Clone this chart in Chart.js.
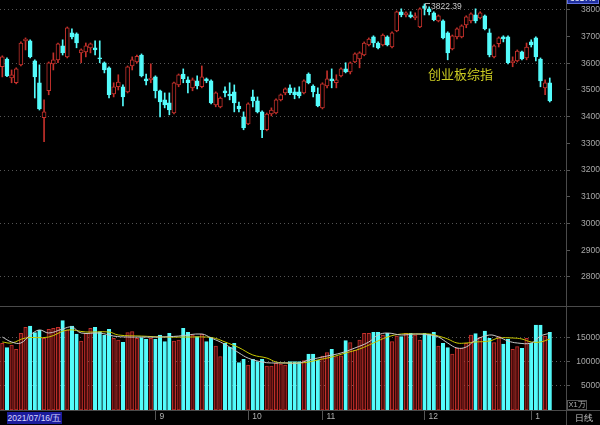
<!DOCTYPE html>
<html>
<head>
<meta charset="utf-8">
<script src="https://cdn.jsdelivr.net/npm/chart.js@4.4.1/dist/chart.umd.min.js"></script>
<style>
  html, body { margin: 0; padding: 0; background: #000; }
  #wrap { position: relative; width: 600px; height: 425px; overflow: hidden; background: #000;
          font-family: "Liberation Sans", Arial, sans-serif; }
  #priceChart { position: absolute; left: 0; top: 0; }
  #volChart { position: absolute; left: 0; top: 306px; }
  .hl { position: absolute; left: 0; width: 600px; height: 1px; background: #4a4a4a; }
  .vl { position: absolute; top: 0; width: 1px; height: 425px; background: #4a4a4a; }
  #title { position: absolute; left: 428px; top: 64px; font: 13px "Noto Sans CJK SC", sans-serif; color: #cccc22; }
  #hiMark { position: absolute; left: 425px; top: 3px; width: 4px; height: 6px;
            border-left: 1px solid #aaa; border-top: 1px solid #aaa; }
  #hiText { position: absolute; left: 431px; top: 1px; font-size: 8.5px; color: #c8c8c8; }
  #curBox { position: absolute; left: 567px; top: -7px; width: 32px; height: 11px; background: #1f2f9f;
            border: 1px solid #6070e0; box-sizing: border-box; color: #fff; font-size: 8.5px; text-align: center; line-height: 9px; }
  #dateBox { position: absolute; left: 7px; top: 412px; width: 55px; height: 12px; background: #1c1c9c;
             color: #d8d8ff; font-size: 8.5px; line-height: 12px; text-align: center; }
  #unitBox { position: absolute; left: 567px; top: 400px; width: 20px; height: 10px; border: 1px solid #555;
             box-sizing: border-box; color: #b0b0b0; font-size: 7.5px; line-height: 8px; text-align: center; }
  #dayText { position: absolute; left: 575px; top: 412px; color: #c0c0c0; font-size: 9px; }
</style>
</head>
<body>
<div id="wrap">
  <canvas id="priceChart" width="600" height="306"></canvas>
  <canvas id="volChart" width="600" height="119"></canvas>
  <div class="hl" style="top:306px"></div>
  <div class="hl" style="top:410px"></div>
  <div class="vl" style="left:566px"></div>
  <div id="title">创业板综指</div>
  <div id="hiMark"></div>
  <div id="hiText">3822.39</div>
  <div id="curBox">3817.0</div>
  <div id="dateBox">2021/07/16/五</div>
  <div id="unitBox">X1万</div>
  <div id="dayText">日线</div>
</div>
<script>
// daily candles, 2021/07/16 .. 2022/01
const opens = [3587,3616,3545,3527,3594,3684,3684,3609,3527,3396,
  3497,3598,3613,3665,3624,3714,3710,3639,3643,3658,
  3658,3620,3602,3583,3485,3512,3512,3493,3590,3605,
  3631,3542,3538,3549,3497,3463,3452,3414,3519,3560,
  3538,3508,3534,3512,3542,3534,3444,3437,3497,3485,
  3493,3440,3399,3373,3474,3459,3418,3351,3410,3414,
  3463,3489,3508,3493,3493,3489,3560,3515,3485,3433,
  3515,3542,3527,3553,3579,3568,3605,3616,3631,3669,
  3699,3676,3669,3699,3661,3721,3793,3781,3781,3770,
  3736,3815,3804,3789,3759,3759,3714,3654,3699,3699,
  3744,3759,3781,3770,3778,3714,3624,3673,3699,3699,
  3602,3609,3643,3620,3680,3695,3616,3508,3527];
const highs = [3628,3620,3575,3583,3680,3695,3688,3613,3594,3463,
  3605,3639,3676,3688,3736,3729,3714,3654,3676,3676,
  3684,3684,3605,3587,3527,3557,3519,3590,3624,3631,
  3635,3560,3598,3553,3500,3489,3489,3530,3560,3579,
  3549,3545,3553,3590,3545,3538,3493,3474,3512,3527,
  3519,3455,3418,3452,3500,3474,3422,3414,3433,3467,
  3485,3508,3519,3508,3512,3538,3564,3519,3508,3527,
  3572,3579,3557,3583,3602,3605,3639,3643,3680,3695,
  3703,3680,3710,3703,3718,3796,3804,3793,3793,3789,
  3808,3822.39,3811,3793,3781,3763,3718,3706,3733,3744,
  3778,3789,3804,3793,3781,3729,3669,3699,3703,3703,
  3624,3650,3646,3676,3688,3699,3620,3538,3545];
const lows = [3549,3550,3527,3523,3590,3650,3620,3470,3425,3306,
  3482,3575,3602,3631,3620,3691,3658,3602,3624,3639,
  3631,3602,3564,3470,3474,3500,3440,3489,3575,3600,
  3549,3519,3527,3470,3399,3433,3407,3410,3512,3527,
  3489,3497,3504,3508,3527,3448,3437,3433,3474,3463,
  3418,3418,3351,3370,3437,3414,3321,3347,3403,3410,
  3459,3482,3482,3467,3470,3485,3523,3474,3437,3429,
  3508,3508,3508,3549,3564,3560,3602,3583,3628,3665,
  3661,3654,3665,3665,3658,3718,3774,3774,3770,3763,
  3733,3781,3781,3759,3755,3691,3613,3650,3691,3695,
  3733,3751,3751,3766,3725,3624,3620,3661,3680,3598,
  3587,3605,3613,3613,3661,3609,3512,3482,3455];
const closes = [3624,3553,3557,3579,3676,3691,3624,3549,3429,3418,
  3602,3613,3673,3639,3733,3699,3676,3650,3665,3673,
  3650,3616,3575,3482,3512,3530,3474,3587,3613,3626,
  3553,3534,3545,3497,3455,3444,3425,3527,3557,3542,
  3527,3538,3515,3549,3534,3452,3489,3470,3489,3478,
  3452,3429,3358,3448,3459,3418,3351,3410,3425,3463,
  3482,3504,3489,3482,3478,3534,3527,3493,3440,3523,
  3542,3534,3538,3579,3568,3602,3635,3639,3676,3691,
  3676,3658,3706,3669,3714,3793,3781,3789,3774,3778,
  3804,3805,3793,3763,3778,3695,3639,3703,3729,3740,
  3774,3785,3759,3789,3729,3631,3665,3695,3691,3602,
  3609,3646,3616,3661,3669,3624,3534,3527,3459];
// volume in 万
const volumes = [13900,13000,13540,12640,15970,17220,17500,16110,16670,14930,
  16810,17010,17220,18610,16670,17500,15830,14370,15970,17010,
  17220,16320,15625,16810,14930,14580,14100,16110,16320,14930,
  15070,14720,14930,14720,15625,14240,15970,14370,14580,17010,
  16180,15625,15280,15830,14240,15140,13330,11110,13900,13060,
  13900,9860,10560,9375,10560,10070,10560,9170,9170,9720,
  9580,9375,10070,10070,10070,10280,11670,11670,10420,11250,
  11940,12640,11110,11300,14440,14030,12500,14580,15970,15970,
  16180,16180,15625,15970,14240,15400,15280,15970,15970,15625,
  14580,15970,15800,16180,13330,13900,12990,11670,12850,12850,
  13900,15625,15900,15140,16460,14930,14030,15280,13750,14720,
  12640,13190,12850,14930,13900,17710,17710,15400,16180];
// volume averages at a few candles: [candle, value]
const maShort = [[0,15200],[2,14170],[4,13960],[6,15625],[8,16670],[10,16040],[13,16875],[15,17290],
  [17,16040],[21,16040],[24,15400],[27,15200],[30,15200],[34,15200],[38,15400],[43,15830],[45,15000],
  [47,14170],[49,13125],[51,11900],[53,10800],[56,10000],[58,9800],[61,9800],[64,9800],[66,10420],
  [68,10830],[70,11250],[73,11875],[76,12920],[79,14170],[81,15625],[83,16040],[86,15625],[89,15830],
  [92,15625],[94,15200],[96,13960],[98,12920],[100,13125],[102,14580],[105,15625],[107,15200],
  [109,14375],[111,13960],[114,13960],[116,15400],[118,16000]];
const maLong = [[0,14170],[2,13960],[5,15000],[10,15200],[14,16670],[18,16250],[23,16250],[25,15625],
  [30,15400],[35,15200],[40,15200],[44,15200],[46,14900],[48,14170],[51,13000],[54,11460],[57,10830],
  [59,10000],[61,9800],[64,9800],[66,10000],[68,10420],[71,11040],[74,11875],[77,12710],[80,13960],
  [83,15200],[86,15830],[89,15830],[92,15830],[94,15400],[96,14790],[98,13960],[100,13960],
  [102,14170],[105,14375],[107,15000],[110,15000],[112,14790],[114,14170],[116,14170],[118,14790]];
const monthTicks = {33: '9', 53: '10', 69: '11', 91: '12', 114: '1'};
const priceTicks = [2800,2900,3000,3100,3200,3300,3400,3500,3600,3700,3800];
const volTicks = [5000,10000,15000];
const slots = 122;   // a few empty slots on the right

const red = '#c3302b', cyan = '#54fcfc';
const labels = Array.from({length: slots}, (_, i) => monthTicks[i] || '');
const isUp = closes.map((c, i) => c >= opens[i]);
const toLine = pts => {
  const arr = new Array(slots).fill(null);
  pts.forEach(([i, v]) => { arr[i] = v; });
  return arr;
};
const fitRight = w => s => { s.width = w; s.paddingTop = 0; s.paddingBottom = 0; };
const tickFont = {family: 'Liberation Sans', size: 8.5};
// dotted grid only every 200 points
const priceGrid = priceTicks.map(v => v % 200 === 0 ? '#555' : 'rgba(0,0,0,0)');

new Chart(document.getElementById('priceChart'), {
  type: 'bar',
  data: {
    labels: labels,
    datasets: [{
      data: opens.map((o, i) => [Math.min(o, closes[i]), Math.max(o, closes[i])]),
      backgroundColor: isUp.map(u => u ? '#000' : cyan),
      borderColor: isUp.map(u => u ? red : cyan),
      borderWidth: 1,
      borderSkipped: false,
      barThickness: 4,
      minBarLength: 1,
      grouped: false,
      order: 0
    }, {
      data: lows.map((l, i) => [l, highs[i]]),
      backgroundColor: isUp.map(u => u ? red : cyan),
      borderWidth: 0,
      barThickness: 1,
      grouped: false,
      order: 1
    }]
  },
  options: {
    responsive: false,
    animation: false,
    layout: {padding: 0},
    plugins: {legend: {display: false}, tooltip: {enabled: false}},
    scales: {
      x: {display: false, offset: true},
      y: {
        position: 'right',
        min: 2691,
        max: 3837,
        afterBuildTicks: s => { s.ticks = priceTicks.map(v => ({value: v})); },
        afterFit: fitRight(34),
        grid: {color: priceGrid, tickColor: '#555', tickLength: 4},
        border: {display: false, dash: [1, 3]},
        ticks: {color: '#a8a8a8', font: tickFont, crossAlign: 'far', padding: 7, callback: v => String(v)}
      }
    }
  }
});

new Chart(document.getElementById('volChart'), {
  type: 'bar',
  data: {
    labels: labels,
    datasets: [{
      type: 'line',
      data: toLine(maShort),
      borderColor: '#c8c8c8',
      borderWidth: 1,
      pointRadius: 0,
      spanGaps: true,
      tension: 0.4,
      order: -2
    }, {
      type: 'line',
      data: toLine(maLong),
      borderColor: '#c8c800',
      borderWidth: 1,
      pointRadius: 0,
      spanGaps: true,
      tension: 0.4,
      order: -1
    }, {
      data: volumes,
      backgroundColor: isUp.map(u => u ? '#4a0c0c' : cyan),
      borderColor: isUp.map(u => u ? red : cyan),
      borderWidth: 1,
      borderSkipped: false,
      barThickness: 3.5,
      order: 0
    }]
  },
  options: {
    responsive: false,
    animation: false,
    layout: {padding: {top: 1}},
    plugins: {legend: {display: false}, tooltip: {enabled: false}},
    scales: {
      x: {
        offset: true,
        afterFit: s => { s.height = 15; s.paddingLeft = 0; s.paddingRight = 0; },
        grid: {
          offset: false,
          drawOnChartArea: false,
          tickLength: 10,
          tickColor: labels.map(l => l ? '#555' : 'rgba(0,0,0,0)')
        },
        border: {display: false},
        ticks: {
          autoSkip: false, maxRotation: 0, minRotation: 0,
          align: 'start', labelOffset: 4, padding: -8,
          color: '#b0b0b0', font: tickFont
        }
      },
      y: {
        position: 'right',
        min: 0,
        max: 21458,
        afterBuildTicks: s => { s.ticks = volTicks.map(v => ({value: v})); },
        afterFit: fitRight(34),
        grid: {color: '#555', tickColor: '#555', tickLength: 4},
        border: {display: false, dash: [1, 3]},
        ticks: {color: '#a8a8a8', font: tickFont, crossAlign: 'far', padding: 2, callback: v => String(v)}
      }
    }
  }
});
</script>
</body>
</html>
